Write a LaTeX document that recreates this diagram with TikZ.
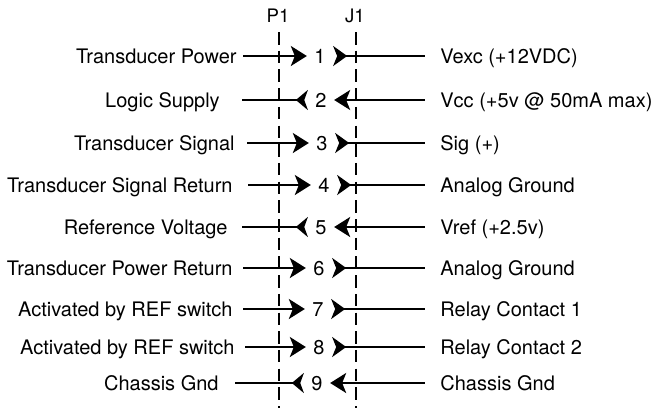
\documentclass[tikz,border=0pt]{standalone}
\usepackage{fontspec}
\setmainfont{TeX Gyre Heros}
\usetikzlibrary{arrows.meta}

\tikzset{
  txt/.style={inner ysep=0pt, text height=0.72em, text depth=0pt, font=\fontsize{10}{12}\selectfont},
  lt/.style={txt, anchor=east},
  rt/.style={txt, anchor=west, inner xsep=7.5pt},
  num/.style={txt, inner xsep=3.6pt},
  hdr/.style={inner sep=0pt, text height=0.72em, text depth=0pt, font=\fontsize{9.3}{11}\selectfont},
  wire/.style={line width=1pt},
  bus/.style={line width=0.9pt, dash pattern=on 6.25pt off 3.1pt},
  lfwd/.style={wire, -{Stealth[length=8pt,width=10pt,inset=2pt]}},
  lback/.style={wire, -{Stealth[length=6pt,width=10pt,inset=1.8pt,reversed]}},
  rfwd/.style={wire, {Stealth[length=7pt,width=10pt,inset=2pt,reversed]}-},
  rback/.style={wire, {Stealth[length=8pt,width=10pt,inset=2pt]}-}
}

\begin{document}
\begin{tikzpicture}[x=0.5pt, y=-0.5pt]
    \useasboundingbox (0,0) rectangle (653,408);

    % 插头标签和虚线
    \node[hdr] (P1) at (278,15) {P1};
    \node[hdr] (J1) at (355,15) {J1};
    \draw[bus] (279,32) -- (279,408);
    \draw[bus] (356,32) -- (356,408);

    % 第1行
    \node[lt, inner xsep=3pt] (l1) at (243,56) {Transducer Power};
    \node[num] (n1) at (320,56) {1};
    \node[rt] (r1) at (425,56) {Vexc (+12VDC)};
    \draw[lfwd] (l1) -- (n1);
    \draw[rfwd] (n1) -- (r1);

    % 第2行
    \node[lt, inner xsep=11pt] (l2) at (242,100) {Logic Supply};
    \node[num] (n2) at (321,100) {2};
    \node[rt] (r2) at (425,100) {Vcc (+5v @ 50mA max)};
    \draw[lback] (l2) -- (n2);
    \draw[rback] (n2) -- (r2);

    % 第3行
    \node[lt, inner xsep=6pt] (l3) at (247,143) {Transducer Signal};
    \node[num] (n3) at (322,143) {3};
    \node[rt] (r3) at (425,143) {Sig (+)};
    \draw[lfwd] (l3) -- (n3);
    \draw[rfwd] (n3) -- (r3);

    % 第4行
    \node[lt, inner xsep=7.5pt] (l4) at (248,185) {Transducer Signal Return};
    \node[num] (n4) at (324,185) {4};
    \node[rt] (r4) at (425,185) {Analog Ground};
    \draw[lfwd] (l4) -- (n4);
    \draw[rfwd] (n4) -- (r4);

    % 第5行
    \node[lt, inner xsep=7pt] (l5) at (242,227) {Reference Voltage};
    \node[num] (n5) at (321,227) {5};
    \node[rt] (r5) at (425,227) {Vref (+2.5v)};
    \draw[lback] (l5) -- (n5);
    \draw[rback] (n5) -- (r5);

    % 第6行
    \node[lt, inner xsep=5pt] (l6) at (243,268) {Transducer Power Return};
    \node[num] (n6) at (319,268) {6};
    \node[rt] (r6) at (425,268) {Analog Ground};
    \draw[lfwd] (l6) -- (n6);
    \draw[rfwd] (n6) -- (r6);

    % 第7行
    \node[lt, inner xsep=5pt] (l7) at (243,309) {Activated by REF switch};
    \node[num] (n7) at (318,309) {7};
    \node[rt] (r7) at (425,309) {Relay Contact 1};
    \draw[lfwd] (l7) -- (n7);
    \draw[rfwd] (n7) -- (r7);

    % 第8行
    \node[lt, inner xsep=5pt] (l8) at (245,347) {Activated by REF switch};
    \node[num] (n8) at (319,347) {8};
    \node[rt] (r8) at (425,347) {Relay Contact 2};
    \draw[lfwd] (l8) -- (n8);
    \draw[rfwd] (n8) -- (r8);

    % 第9行
    \node[lt, inner xsep=8pt] (l9) at (235,383) {Chassis Gnd};
    \node[num] (n9) at (317,383) {9};
    \node[rt] (r9) at (425,383) {Chassis Gnd};
    \draw[lback] (l9) -- (n9);
    \draw[rback] (n9) -- (r9);
\end{tikzpicture}
\end{document}
